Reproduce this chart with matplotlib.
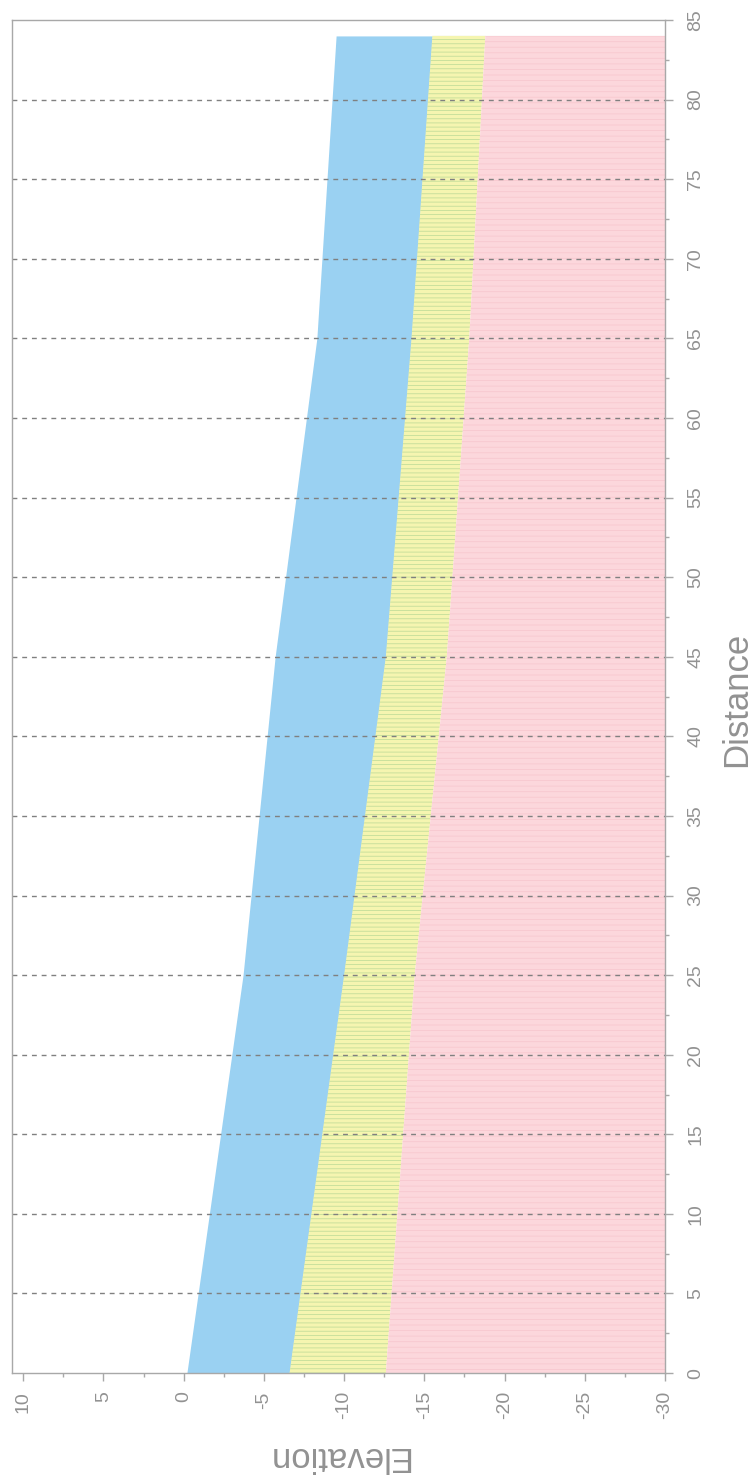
import matplotlib
matplotlib.use("Agg")
import matplotlib.pyplot as plt
from matplotlib.ticker import MultipleLocator, FixedLocator

plt.rcParams["font.family"] = ["Liberation Sans", "DejaVu Sans"]
plt.rcParams["axes.unicode_minus"] = False
plt.rcParams["hatch.linewidth"] = 0.6

# ── section data (distance along profile, layer tops in elevation) ──
distance    = [0, 25, 45, 65, 84]
surface     = [-0.2, -3.7, -5.7, -8.3, -9.5]
blue_base   = [-6.6, -10.0, -12.6, -14.2, -15.5]
yellow_base = [-12.6, -14.4, -16.4, -17.8, -18.8]
floor       = [-30, -30, -30, -30, -30]

dist_ticks = list(range(0, 90, 5))
elev_ticks = [10, 5, 0, -5, -10, -15, -20, -25, -30]
grid_dist  = list(range(5, 85, 5))

TXT = "#929292"
AX = "#a8a8a8"

fig = plt.figure(figsize=(7.54, 14.82), dpi=100)
ax = fig.add_axes([0.0159, 0.0735, 0.8661, 0.9130])

# layers, drawn sideways: elevation on x, distance on y
ax.fill_betweenx(distance, surface, blue_base, facecolor="#9ad1f2",
                 edgecolor="#8cc6ec", linewidth=0, zorder=1)
ax.fill_betweenx(distance, blue_base, yellow_base, facecolor="#f5f5b0",
                 edgecolor="#c3dd9a", hatch="----", linewidth=0, zorder=1)
ax.fill_betweenx(distance, yellow_base, floor, facecolor="#fcd7dc",
                 edgecolor="#f8c8cf", hatch="---", linewidth=0, zorder=1)

for d in grid_dist:
    ax.axhline(d, color="#808080", lw=1.0, ls=(0, (3.5, 3.5)), zorder=2)

ax.set_xlim(10.7, -30)
ax.set_ylim(0, 85)

ax.yaxis.tick_right()
ax.yaxis.set_label_position("right")
ax.yaxis.set_major_locator(FixedLocator(dist_ticks))
ax.yaxis.set_minor_locator(MultipleLocator(2.5))
ax.set_yticklabels([str(v) for v in dist_ticks], rotation=90,
                   va="center", ha="left", color=TXT, fontsize=14)

ax.xaxis.set_major_locator(FixedLocator(elev_ticks))
ax.xaxis.set_minor_locator(MultipleLocator(2.5))
ax.set_xticklabels([str(v) for v in elev_ticks], rotation=90,
                   va="top", ha="center", color=TXT, fontsize=14)

ax.tick_params(axis="both", which="major", length=6, width=1, color=AX)
ax.tick_params(axis="both", which="minor", length=3, width=1, color=AX)
ax.tick_params(axis="y", which="major", pad=10)
ax.tick_params(axis="x", which="major", pad=7)

for s in ax.spines.values():
    s.set_color(AX)
    s.set_linewidth(1.0)

fig.text(0.448, 0.0175, "Elevation", rotation=180, ha="center", va="center",
         color=TXT, fontsize=25)
fig.text(0.977, 0.528, "Distance", rotation=90, ha="center", va="center",
         color=TXT, fontsize=25)

fig.savefig("out.png", dpi=100, facecolor="white")
